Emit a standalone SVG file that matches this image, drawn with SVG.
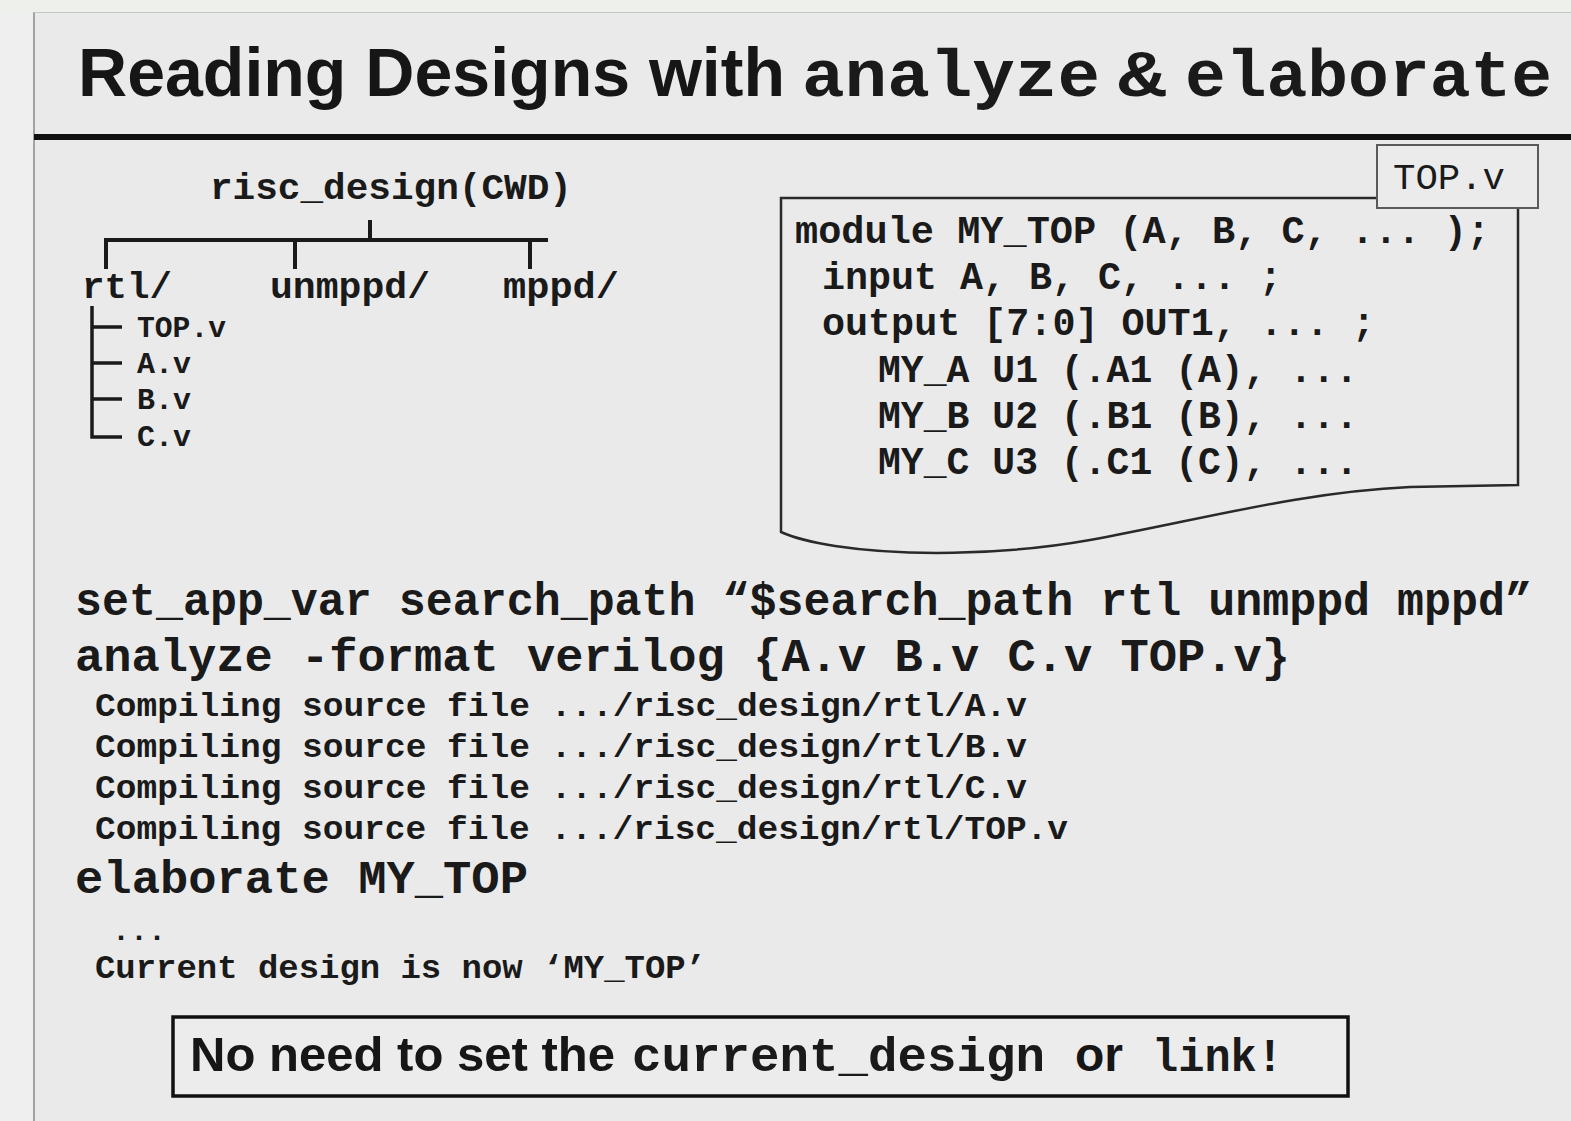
<svg xmlns="http://www.w3.org/2000/svg" width="1571" height="1121" viewBox="0 0 1571 1121">
<style>
.mono{font-family:"Liberation Mono","DejaVu Sans Mono",monospace;fill:#1a1a1a}
.b{font-weight:bold}
.sans{font-family:"Liberation Sans",Arial,sans-serif;font-weight:bold;fill:#161616}
.ln{stroke:#1a1a1a;fill:none}
</style>
<rect x="0" y="0" width="1571" height="1121" fill="#efefef"/>
<rect x="0" y="0" width="1571" height="12" fill="#eef0ec"/>
<rect x="34" y="13" width="1537" height="1108" fill="#eaeaea"/>
<line x1="34" y1="12" x2="34" y2="1121" stroke="#8a8a8a" stroke-width="1.5"/>
<line x1="34" y1="12.5" x2="1571" y2="12.5" stroke="#c4c4c4" stroke-width="1"/>
<line x1="34" y1="137" x2="1571" y2="137" stroke="#111" stroke-width="6"/>

<g id="title">
<text x="78" y="96" class="sans" font-size="68" textLength="707" lengthAdjust="spacingAndGlyphs">Reading Designs with</text>
<text x="802" y="96" class="mono b" font-size="66" textLength="298" lengthAdjust="spacingAndGlyphs">analyze</text>
<text x="1118" y="96" class="mono b" font-size="66" textLength="48" lengthAdjust="spacingAndGlyphs">&amp;</text>
<text x="1185" y="96" class="mono b" font-size="66" textLength="367" lengthAdjust="spacingAndGlyphs">elaborate</text>
</g>

<g id="connectors">
<line class="ln" x1="370" y1="220" x2="370" y2="240" stroke-width="4"/>
<line class="ln" x1="104" y1="240" x2="548" y2="240" stroke-width="4"/>
<line class="ln" x1="106" y1="240" x2="106" y2="269" stroke-width="4"/>
<line class="ln" x1="295" y1="240" x2="295" y2="269" stroke-width="4"/>
<line class="ln" x1="530" y1="240" x2="530" y2="269" stroke-width="4"/>
<polyline class="ln" points="92,306 92,437 122,437" stroke-width="3.5"/>
<line class="ln" x1="92" y1="327" x2="122" y2="327" stroke-width="3.5"/>
<line class="ln" x1="92" y1="363" x2="122" y2="363" stroke-width="3.5"/>
<line class="ln" x1="92" y1="399" x2="122" y2="399" stroke-width="3.5"/>
</g>

<g id="node-risc_design"><text x="210" y="199" class="mono b" font-size="37" textLength="362" lengthAdjust="spacingAndGlyphs">risc_design(CWD)</text></g>
<g id="node-rtl"><text x="82" y="298" class="mono b" font-size="37" textLength="90" lengthAdjust="spacingAndGlyphs">rtl/</text></g>
<g id="node-unmppd"><text x="270" y="298" class="mono b" font-size="37" textLength="160" lengthAdjust="spacingAndGlyphs">unmppd/</text></g>
<g id="node-mppd"><text x="503" y="298" class="mono b" font-size="37" textLength="116" lengthAdjust="spacingAndGlyphs">mppd/</text></g>
<g id="node-files" class="mono b" font-size="29">
<text x="137" y="337" textLength="89" lengthAdjust="spacingAndGlyphs">TOP.v</text>
<text x="137" y="373" textLength="54" lengthAdjust="spacingAndGlyphs">A.v</text>
<text x="137" y="409" textLength="54" lengthAdjust="spacingAndGlyphs">B.v</text>
<text x="137" y="446" textLength="54" lengthAdjust="spacingAndGlyphs">C.v</text>
</g>

<g id="node-topv">
<path d="M1377,198 L781,198 L781,532 C792,537 810,542 835,546 C900,556 1000,556 1090,540 C1200,520 1300,492 1410,487 L1518,485 L1518,208" fill="none" stroke="#2a2a2a" stroke-width="2.5"/>
<rect x="1377" y="145" width="161" height="63" fill="#ebebeb" stroke="#5a5a5a" stroke-width="2"/>
<text x="1393" y="189" class="mono" font-size="36" textLength="112" lengthAdjust="spacingAndGlyphs" fill="#2a2a2a">TOP.v</text>
<g class="mono b" font-size="38">
<text x="795" y="243" textLength="695" lengthAdjust="spacingAndGlyphs">module MY_TOP (A, B, C, ... );</text>
<text x="822" y="289" textLength="460" lengthAdjust="spacingAndGlyphs">input A, B, C, ... ;</text>
<text x="822" y="335" textLength="553" lengthAdjust="spacingAndGlyphs">output [7:0] OUT1, ... ;</text>
<text x="878" y="382" textLength="480" lengthAdjust="spacingAndGlyphs">MY_A U1 (.A1 (A), ...</text>
<text x="878" y="428" textLength="480" lengthAdjust="spacingAndGlyphs">MY_B U2 (.B1 (B), ...</text>
<text x="878" y="474" textLength="480" lengthAdjust="spacingAndGlyphs">MY_C U3 (.C1 (C), ...</text>
</g>
</g>

<g id="node-commands">
<text x="75" y="615" class="mono b" font-size="46" textLength="1457" lengthAdjust="spacingAndGlyphs">set_app_var search_path “$search_path rtl unmppd mppd”</text>
<text x="75" y="671" class="mono b" font-size="46" textLength="1215" lengthAdjust="spacingAndGlyphs">analyze -format verilog {A.v B.v C.v TOP.v}</text>
<g class="mono b" font-size="34">
<text x="95" y="716" textLength="932" lengthAdjust="spacingAndGlyphs">Compiling source file .../risc_design/rtl/A.v</text>
<text x="95" y="757" textLength="932" lengthAdjust="spacingAndGlyphs">Compiling source file .../risc_design/rtl/B.v</text>
<text x="95" y="798" textLength="932" lengthAdjust="spacingAndGlyphs">Compiling source file .../risc_design/rtl/C.v</text>
<text x="95" y="839" textLength="973" lengthAdjust="spacingAndGlyphs">Compiling source file .../risc_design/rtl/TOP.v</text>
</g>
<text x="75" y="893" class="mono b" font-size="46" textLength="453" lengthAdjust="spacingAndGlyphs">elaborate MY_TOP</text>
<text x="112" y="940" class="mono b" font-size="30">...</text>
<text x="95" y="978" class="mono b" font-size="34" textLength="611" lengthAdjust="spacingAndGlyphs">Current design is now ‘MY_TOP’</text>
</g>

<g id="node-note">
<rect x="173" y="1017" width="1175" height="79" fill="#ececec" stroke="#111" stroke-width="3.5"/>
<text x="190" y="1071" class="sans" font-size="48" textLength="425" lengthAdjust="spacingAndGlyphs">No need to set the</text>
<text x="632" y="1071" class="mono b" font-size="49" textLength="413" lengthAdjust="spacingAndGlyphs">current_design</text>
<text x="1075" y="1071" class="sans" font-size="48" textLength="48" lengthAdjust="spacingAndGlyphs">or</text>
<text x="1152" y="1071" class="mono b" font-size="46" textLength="131" lengthAdjust="spacingAndGlyphs">link!</text>
</g>
</svg>
